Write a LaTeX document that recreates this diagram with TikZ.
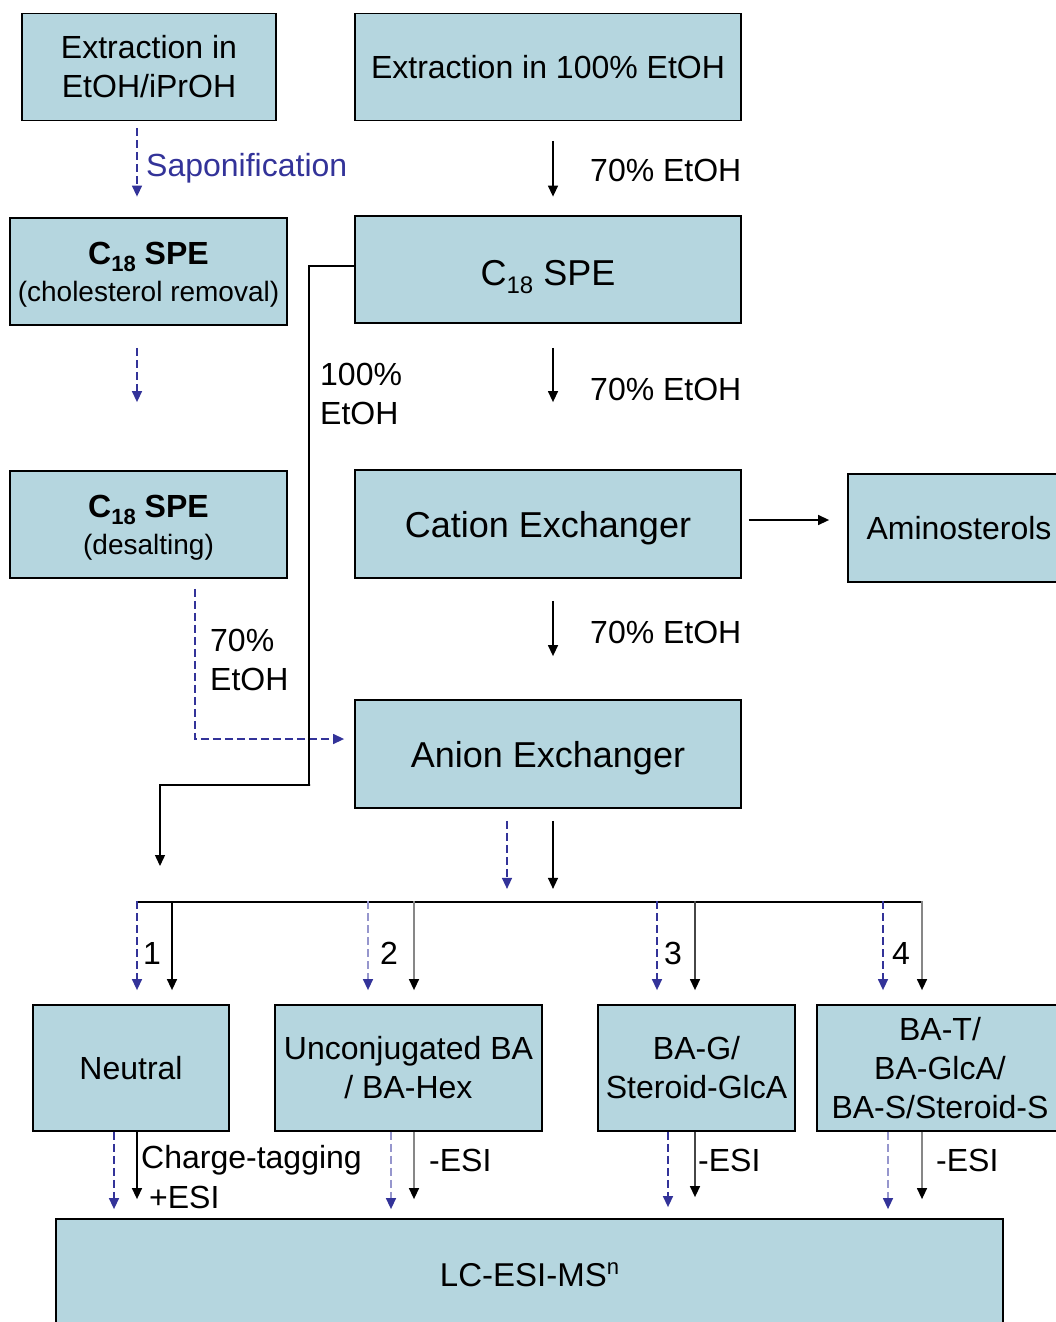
\documentclass[tikz,border=0pt]{standalone}
\usepackage{fontspec}
\setmainfont{Liberation Sans}
\usetikzlibrary{arrows.meta,calc}
\definecolor{boxfill}{RGB}{181,214,223}
\definecolor{dblue}{RGB}{51,51,153}
\definecolor{lblue}{RGB}{150,150,205}
\definecolor{lgray}{RGB}{135,135,135}
\definecolor{dgray}{RGB}{70,70,70}
\newcommand{\lowsub}[3]{\raisebox{#3}[0pt][0pt]{\fontsize{#1}{#1}\selectfont #2}}
\begin{document}
\begin{tikzpicture}[x=1pt,y=-1pt,
  box/.style={draw=black, line width=1.8pt, fill=boxfill, inner sep=0pt, align=center,
    font=\fontsize{32}{39}\selectfont},
  big/.style={font=\fontsize{36}{43}\selectfont},
  nodep/.style={text depth=0pt},
  lbl/.style={inner sep=0pt, align=left, font=\fontsize{32}{39}\selectfont},
  sol/.style={line width=1.4pt, -{Triangle[length=11pt,width=10pt,color=black]}},
  dsh/.style={line width=1.4pt, dblue, dash pattern=on 8pt off 4pt, -{Triangle[length=11pt,width=10pt,color=dblue]}},
]
\useasboundingbox (0,0) rectangle (1056,1322);
\clip (0,0) rectangle (1056,1322);

% boxes
\node[box, minimum width=254pt, minimum height=107pt] (A) at (149,67) {Extraction in\\EtOH/iPrOH};
\node[box, minimum width=386pt, minimum height=107pt] (B) at (548,67) {Extraction in 100\% EtOH};
\node[box, nodep, minimum width=277pt, minimum height=107pt] (C) at (148.5,271.5)
  {{\bfseries C\lowsub{22}{\bfseries 18}{-7pt} SPE}\\[-2pt]{\fontsize{28}{34}\selectfont (cholesterol removal)}};
\node[box, big, minimum width=386pt, minimum height=107pt, text height=31pt, text depth=0pt] (D) at (548,269.5) {C\lowsub{24}{18}{-8pt} SPE};
\node[box, nodep, minimum width=277pt, minimum height=107pt] (E) at (148.5,524.5)
  {{\bfseries C\lowsub{22}{\bfseries 18}{-7pt} SPE}\\[-2pt]{\fontsize{28}{34}\selectfont (desalting)}};
\node[box, big, nodep, minimum width=386pt, minimum height=108pt] (F) at (548,524) {Cation Exchanger};
\node[box, minimum width=222pt, minimum height=108pt] (G) at (959,528) {Aminosterols};
\node[box, big, nodep, minimum width=386pt, minimum height=108pt] (H) at (548,754) {Anion Exchanger};
\node[box, minimum width=196pt, minimum height=126pt] (N) at (131,1068) {Neutral};
\node[box, minimum width=267pt, minimum height=126pt] (U) at (408.5,1068) {Unconjugated BA\\/ BA-Hex};
\node[box, minimum width=197pt, minimum height=126pt] (BG) at (696.5,1068) {BA-G/\\Steroid-GlcA};
\node[box, minimum width=246pt, minimum height=126pt] (BT) at (940,1068) {BA-T/\\BA-GlcA/\\BA-S/Steroid-S};
\node[box, minimum width=947pt, minimum height=112pt] (LC) at (529.5,1275)
  {\fontsize{33}{40}\selectfont LC-ESI-MS\lowsub{22}{n}{12pt}};

% labels
\node[lbl, anchor=west, text=dblue] (lsap) at (146,168) {Saponification};
\node[lbl, anchor=west] (l1) at (590,170) {70\% EtOH};
\node[lbl, anchor=west] (l2) at (590,389) {70\% EtOH};
\node[lbl, anchor=west] (l3) at (590,632) {70\% EtOH};
\node[lbl, anchor=west] (l100) at (320,394) {100\%\\EtOH};
\node[lbl, anchor=west] (l70) at (210,660) {70\%\\EtOH};
\node[lbl] (n1) at (152,953) {1};
\node[lbl] (n2) at (389,953) {2};
\node[lbl] (n3) at (673,953) {3};
\node[lbl] (n4) at (901,953) {4};
\node[lbl, anchor=west] (lct) at (141,1160) {Charge-tagging};
\node[lbl, anchor=west] (lpe) at (149,1197) {+ESI};
\node[lbl, anchor=west] (le2) at (429,1160) {-ESI};
\node[lbl, anchor=west] (le3) at (698,1160) {-ESI};
\node[lbl, anchor=west] (le4) at (936,1160) {-ESI};

% top connectors
\draw[dsh] ($(A.south)+(-12,6.5)$) -- ($(C.north)+(-11.5,-20.5)$);
\draw[sol] ($(B.south)+(5,19.5)$) -- ($(D.north)+(5,-18.5)$);
\draw[dsh] ($(C.south)+(-11.5,22)$) -- ($(E.north)+(-11.5,-68)$);
\draw[sol] ($(D.south)+(5,24)$) -- ($(F.north)+(5,-67)$);
\draw[sol] ($(F.south)+(5,22)$) -- ($(H.north)+(5,-43)$);
\draw[sol] ($(F.east)+(7,-4)$) -- ($(G.west)+(-18,-8)$);
\draw[dsh] ($(E.south)+(46.5,10)$) |- ($(H.west)+(-10,-15)$);
\coordinate (nend) at (160,866);
\draw[sol] ($(D.west)+(0,-3.5)$) -- ++(-45,0) |- (310,785) -| (nend);

% from anion exchanger
\draw[dsh] ($(H.south)+(-41,12)$) -- ++(0,68);
\draw[sol] ($(H.south)+(5,12)$) -- ++(0,68);

% bus
\coordinate (bus1) at (137,902);
\coordinate (bus4) at (923,902);
\draw[line width=1.6pt] (bus1) -- (bus4);

% branch arrows
\draw[dsh] ($(N.north)+(6,-103)$) -- ($(N.north)+(6,-14)$);
\draw[sol] ($(N.north)+(41,-103)$) -- ($(N.north)+(41,-14)$);
\draw[dsh, lblue] ($(U.north)+(-40.5,-103)$) -- ($(U.north)+(-40.5,-14)$);
\draw[sol, lgray] ($(U.north)+(5.5,-103)$) -- ($(U.north)+(5.5,-14)$);
\draw[dsh] ($(BG.north)+(-39.5,-103)$) -- ($(BG.north)+(-39.5,-14)$);
\draw[sol, dgray] ($(BG.north)+(-1.5,-103)$) -- ($(BG.north)+(-1.5,-14)$);
\draw[dsh] ($(BT.north)+(-57,-103)$) -- ($(BT.north)+(-57,-14)$);
\draw[sol, lgray] ($(BT.north)+(-18,-103)$) -- ($(BT.north)+(-18,-14)$);

% to LC
\draw[dsh] ($(N.south)+(-17,0)$) -- ($(LC.north)+(-415.5,-9)$);
\draw[sol] ($(N.south)+(6,0)$) -- ($(LC.north)+(-392.5,-19)$);
\draw[dsh, lblue] ($(U.south)+(-17.5,0)$) -- ($(LC.north)+(-138.5,-9)$);
\draw[sol, lgray] ($(U.south)+(5.5,0)$) -- ($(LC.north)+(-115.5,-19)$);
\draw[dsh] ($(BG.south)+(-28.5,0)$) -- ($(LC.north)+(138.5,-11)$);
\draw[sol, dgray] ($(BG.south)+(-1.5,0)$) -- ($(LC.north)+(165.5,-21)$);
\draw[dsh, lblue] ($(BT.south)+(-52,0)$) -- ($(LC.north)+(358.5,-9)$);
\draw[sol, lgray] ($(BT.south)+(-18,0)$) -- ($(LC.north)+(392.5,-19)$);
\end{tikzpicture}
\end{document}
